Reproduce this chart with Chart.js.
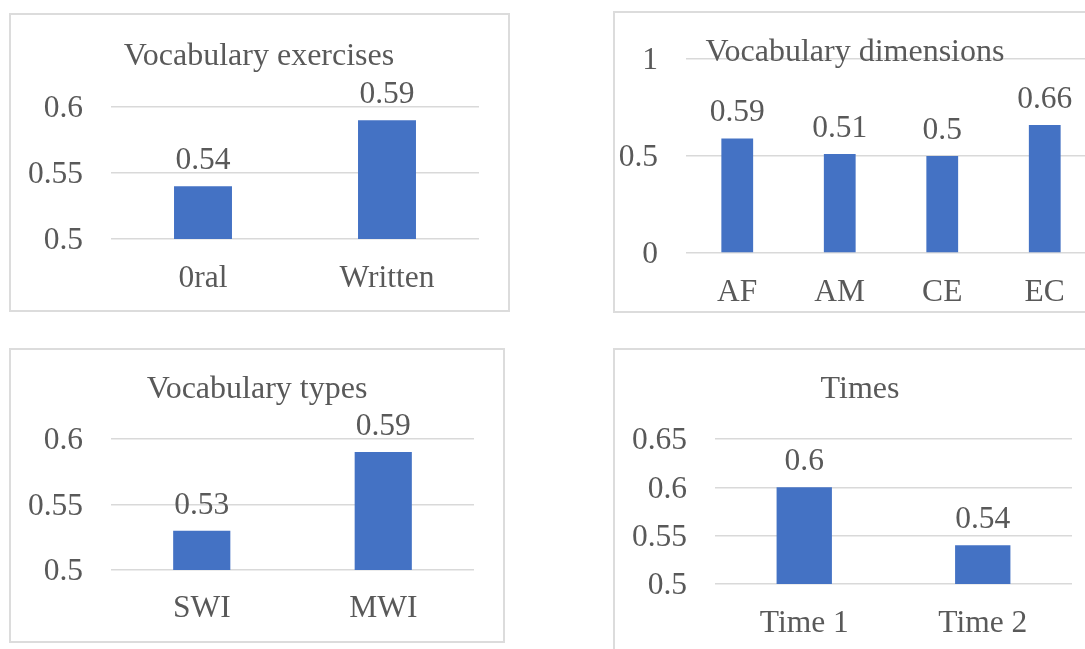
<!DOCTYPE html>
<html>
<head>
<meta charset="utf-8">
<script src="https://cdn.jsdelivr.net/npm/chart.js@4.4.1/dist/chart.umd.min.js"></script>
<style>
  html, body { margin: 0; padding: 0; background: #fff; width: 1085px; height: 649px; overflow: hidden; position: relative; }
  .panel { position: absolute; box-sizing: border-box; border: 2px solid #dcdcdc; background: #fff; }
  canvas { position: absolute; }
</style>
</head>
<body>
<div class="panel" style="left:9px;top:13px;width:501px;height:299px;"></div>
<div class="panel" style="left:613px;top:11px;width:520px;height:302px;"></div>
<div class="panel" style="left:9px;top:348px;width:496px;height:295px;"></div>
<div class="panel" style="left:613px;top:348px;width:520px;height:320px;"></div>
<canvas id="c1" width="500" height="298" style="left:10px;top:14px;"></canvas>
<canvas id="c2" width="520" height="300" style="left:614px;top:12px;"></canvas>
<canvas id="c3" width="495" height="294" style="left:10px;top:349px;"></canvas>
<canvas id="c4" width="471" height="300" style="left:614px;top:349px;"></canvas>
<script>
// ---- data ----
const exerciseCategories = ['0ral', 'Written'];
const exerciseValues = [0.54, 0.59];
const exerciseTicks = [0.5, 0.55, 0.6];

const dimensionCategories = ['AF', 'AM', 'CE', 'EC'];
const dimensionValues = [0.59, 0.51, 0.5, 0.66];
const dimensionTicks = [0, 0.5, 1];

const typeCategories = ['SWI', 'MWI'];
const typeValues = [0.53, 0.59];
const typeTicks = [0.5, 0.55, 0.6];

const timeCategories = ['Time 1', 'Time 2'];
const timeValues = [0.6, 0.54];
const timeTicks = [0.5, 0.55, 0.6, 0.65];

const titles = ['Vocabulary exercises', 'Vocabulary dimensions', 'Vocabulary types', 'Times'];

// ---- style ----
const FONT = '"Liberation Serif", "Times New Roman", serif';
const FSIZE = 31.5;
const TSIZE = 32;
const TEXT = '#595959';
const GRID = '#d9d9d9';
const BAR = '#4472c4';

const titlePlugin = {
  id: 'panelTitle',
  afterDraw(chart, args, opts) {
    const ctx = chart.ctx;
    ctx.save();
    ctx.font = TSIZE + 'px ' + FONT;
    ctx.fillStyle = TEXT;
    ctx.textAlign = 'center';
    ctx.textBaseline = 'alphabetic';
    ctx.fillText(opts.text, opts.x, opts.y);
    ctx.restore();
  }
};

const valueLabelPlugin = {
  id: 'valueLabels',
  afterDatasetsDraw(chart, args, opts) {
    const ctx = chart.ctx;
    ctx.save();
    ctx.font = FSIZE + 'px ' + FONT;
    ctx.fillStyle = TEXT;
    ctx.textAlign = 'center';
    ctx.textBaseline = 'alphabetic';
    const meta = chart.getDatasetMeta(0);
    const data = chart.data.datasets[0].data;
    meta.data.forEach((bar, i) => {
      ctx.fillText(String(data[i]), bar.x, bar.y - opts.gap);
    });
    ctx.restore();
  }
};

function makeChart(id, labels, values, ticks, title, geom) {
  const min = ticks[0], max = ticks[ticks.length - 1];
  const step = ticks[1] - ticks[0];
  const canvas = document.getElementById(id);
  return new Chart(canvas, {
    type: 'bar',
    data: {
      labels: labels,
      datasets: [{
        data: values,
        backgroundColor: BAR,
        borderWidth: 0,
        categoryPercentage: 1,
        barPercentage: geom.barPct
      }]
    },
    options: {
      responsive: false,
      animation: false,
      devicePixelRatio: 1,
      layout: { padding: { top: geom.top, right: geom.right, left: 0, bottom: 0 } },
      plugins: {
        legend: { display: false },
        tooltip: { enabled: false },
        title: { display: false },
        panelTitle: { text: title, x: geom.tx, y: geom.ty },
        valueLabels: { gap: 17 }
      },
      scales: {
        x: {
          grid: { display: false, drawTicks: false },
          border: { display: false },
          ticks: { color: TEXT, font: { family: FONT, size: FSIZE }, padding: geom.xpad, maxRotation: 0, autoSkip: false },
          afterFit(scale) { scale.height = canvas.height - geom.bottom; }
        },
        y: {
          min: min, max: max,
          grid: { color: GRID, lineWidth: 1.5, drawTicks: false },
          border: { display: false },
          ticks: {
            stepSize: step, color: TEXT, padding: 28, labelOffset: 2,
            font: { family: FONT, size: FSIZE },
            callback: (v) => String(Math.round(v * 100) / 100)
          },
          afterFit(scale) { scale.width = geom.left; }
        }
      }
    },
    plugins: [titlePlugin, valueLabelPlugin]
  });
}

makeChart('c1', exerciseCategories, exerciseValues, exerciseTicks, titles[0],
  { left: 101, right: 31, top: 93, bottom: 225, barPct: 0.315, xpad: 21, tx: 249, ty: 51 });
makeChart('c2', dimensionCategories, dimensionValues, dimensionTicks, titles[1],
  { left: 72, right: 38, top: 21, bottom: 241, barPct: 0.31, xpad: 21, tx: 241, ty: 49 });
makeChart('c3', typeCategories, typeValues, typeTicks, titles[2],
  { left: 101, right: 31, top: 90, bottom: 221, barPct: 0.315, xpad: 20, tx: 247, ty: 49 });
makeChart('c4', timeCategories, timeValues, timeTicks, titles[3],
  { left: 101, right: 13, top: 90, bottom: 235, barPct: 0.31, xpad: 21, tx: 246, ty: 49 });
</script>
</body>
</html>
